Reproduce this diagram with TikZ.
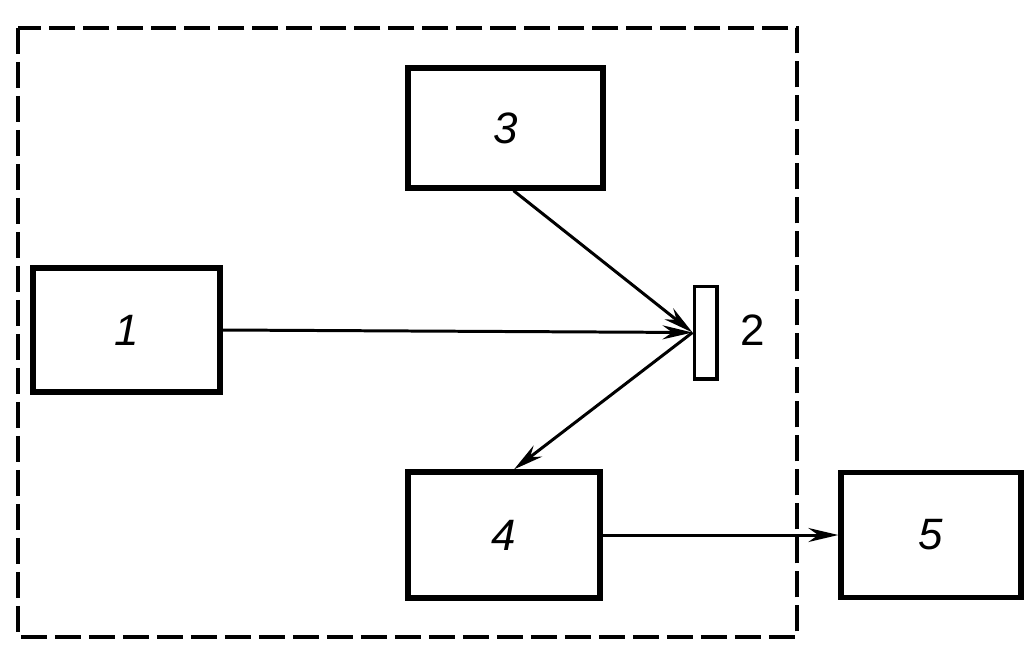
\documentclass[tikz,border=0pt]{standalone}
\usepackage{fontspec}
\setmainfont{Liberation Sans}
\usetikzlibrary{positioning, arrows.meta, calc}

\begin{document}
\begin{tikzpicture}[
    x=0.02cm, y=-0.02cm,
    block/.style={rectangle, draw=black, line width=3pt, inner sep=0pt,
                  font=\fontsize{25}{28}\selectfont\itshape},
    plate/.style={rectangle, draw=black, line width=2pt, inner sep=0pt,
                  minimum width=0.45cm, minimum height=1.85cm},
    beam/.style={line width=1.7pt, -{Stealth[length=6mm, width=2.8mm]}},
    frame/.style={line width=2pt, dash pattern=on 0.52cm off 0.16cm}
]
    \useasboundingbox (0,0) rectangle (1028,646);

    % --- enclosure ---
    \draw[frame] (18,28) rectangle (797,637);

    % --- blocks ---
    \node[block, minimum width=3.74cm, minimum height=2.48cm] (b1) at (126.5,330) {1};
    \node[block, minimum width=3.9cm,  minimum height=2.4cm]  (b3) at (505.5,128) {3};
    \node[block, minimum width=3.84cm, minimum height=2.52cm] (b4) at (504,535)   {4};
    \node[block, minimum width=3.6cm,  minimum height=2.5cm]  (b5) at (931,535)   {5};

    % sample plate
    \node[plate] (b2) at (705.5,332.5) {};
    \node[font=\fontsize{25}{28}\selectfont] (l2) at (753,330) {2};

    % --- beams ---
    \draw[beam] (b1.east) -- (b2.west);
    \draw[beam] ($(b3.south)+(8,0)$) -- (b2.west);
    \draw[beam] (b2.west) -- ($(b4.north)+(10,0)$);
    \draw[beam] (b4.east) -- (b5.west);

\end{tikzpicture}
\end{document}
